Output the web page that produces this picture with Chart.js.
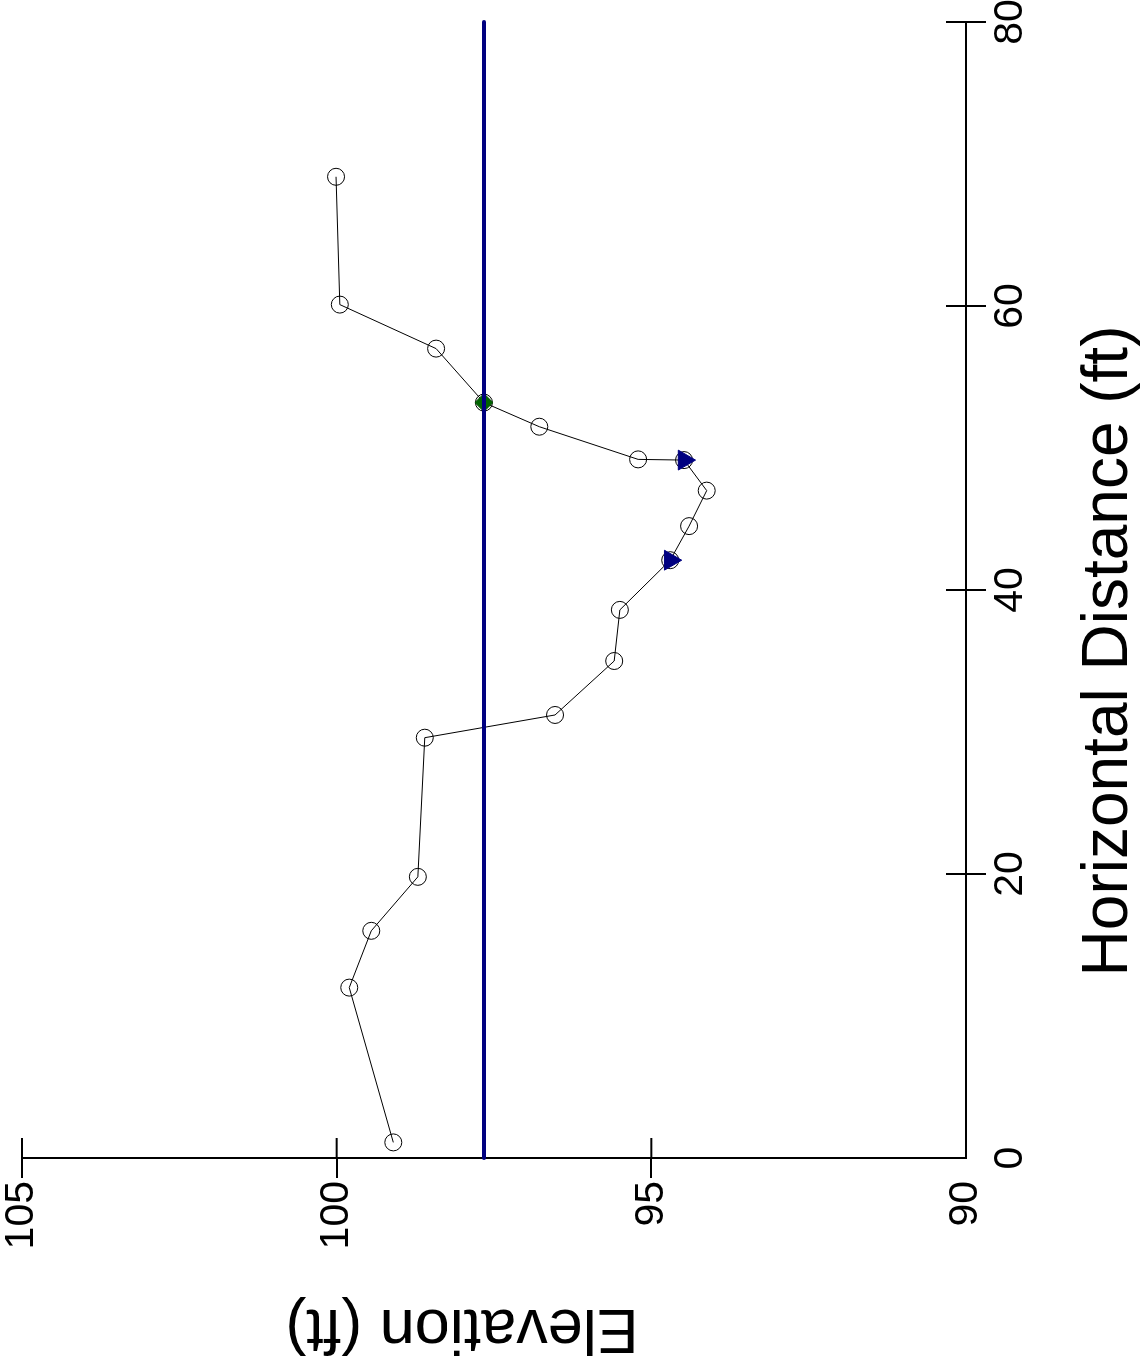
<!DOCTYPE html>
<html>
<head>
<meta charset="utf-8">
<script src="https://cdn.jsdelivr.net/npm/chart.js@4.4.1/dist/chart.umd.min.js"></script>
<style>
    html, body { margin: 0; padding: 0; background: #fff; overflow: hidden; }
    #khung {
        position: absolute; left: 0; top: 0;
        width: 1368px; height: 1142px;
        transform-origin: 0 0;
        transform: translate(0px, 1368px) rotate(-90deg);
    }
</style>
</head>
<body>
<div id="khung"><canvas id="myChart" width="1368" height="1142"></canvas></div>
<script>
// mat cat ngang: khoang cach (ft) va cao do (ft)
var distance = [1.1, 12.0, 16.0, 19.8, 29.6, 31.2, 35.0, 38.6, 42.1, 44.5, 47.0, 49.15, 49.2, 51.5, 53.2, 57.0, 60.1, 69.1];
var elevation = [99.10, 99.80, 99.45, 98.71, 98.60, 96.53, 95.59, 95.50, 94.70, 94.40, 94.12, 94.48, 95.21, 96.78, 97.66, 98.42, 99.95, 100.01];

var triDist = [42.1, 49.15];
var triElev = [94.70, 94.48];

var edgeDist = [53.2];
var edgeElev = [97.66];

var waterDist = [0, 80];
var waterElev = [97.66, 97.66];

var xTicks = [0, 20, 40, 60, 80];
var yTicks = [90, 95, 100, 105];

var xTitle = "Horizontal Distance (ft)";
var yTitle = "Elevation (ft)";

var FONT = "'Liberation Sans', Arial, Helvetica, sans-serif";

function toPoints(xs, ys) {
    var arr = [];
    for (var i = 0; i < xs.length; i++) {
        arr.push({ x: xs[i], y: ys[i] });
    }
    return arr;
}

// vach chia cat qua truc (phan ben trong) + tieu de truc
var innerTicks = {
    id: 'innerTicks',
    afterDraw: function (chart) {
        var ctx = chart.ctx;
        var xs = chart.scales.x, ys = chart.scales.y;
        var area = chart.chartArea;
        ctx.save();
        ctx.strokeStyle = '#000';
        ctx.lineWidth = 2;
        xTicks.forEach(function (v) {
            if (v === xTicks[0]) return;
            var px = xs.getPixelForValue(v);
            ctx.beginPath();
            ctx.moveTo(px, area.bottom);
            ctx.lineTo(px, area.bottom - 20);
            ctx.stroke();
        });
        yTicks.forEach(function (v) {
            if (v === yTicks[0]) return;
            var py = ys.getPixelForValue(v);
            ctx.beginPath();
            ctx.moveTo(area.left, py);
            ctx.lineTo(area.left + 20, py);
            ctx.stroke();
        });

        ctx.fillStyle = '#000';
        ctx.textAlign = 'center';
        ctx.textBaseline = 'alphabetic';
        ctx.font = '64px ' + FONT;
        ctx.fillText(xTitle, 717, 1127);
        ctx.font = '63px ' + FONT;
        ctx.translate(58, 462);
        ctx.rotate(-Math.PI / 2);
        ctx.fillText(yTitle, 0, 0);
        ctx.restore();
    }
};

function tickColor(first) {
    return function (c) {
        return (c.tick && c.tick.value === first) ? 'rgba(0,0,0,0)' : '#000';
    };
}

var ctx = document.getElementById('myChart').getContext('2d');
var myChart = new Chart(ctx, {
    type: 'scatter',
    data: {
        datasets: [
            {
                label: 'Water surface',
                data: toPoints(waterDist, waterElev),
                showLine: true,
                borderColor: '#000080',
                borderWidth: 4,
                borderCapStyle: 'round',
                pointRadius: 0,
                clip: false,
                order: 0
            },
            {
                label: 'Edge',
                data: toPoints(edgeDist, edgeElev),
                pointStyle: 'rectRot',
                pointRadius: 9,
                backgroundColor: '#006400',
                borderColor: '#005000',
                borderWidth: 1,
                order: 1
            },
            {
                label: 'Marks',
                data: toPoints(triDist, triElev),
                pointStyle: 'triangle',
                rotation: 180,
                pointRadius: 11.5,
                backgroundColor: '#000080',
                borderColor: '#000080',
                borderWidth: 1,
                order: 2
            },
            {
                label: 'Profile',
                data: toPoints(distance, elevation),
                showLine: true,
                borderColor: '#000',
                borderWidth: 1,
                pointRadius: 8.5,
                pointBackgroundColor: 'rgba(0,0,0,0)',
                pointBorderColor: '#000',
                pointBorderWidth: 1,
                order: 3
            }
        ]
    },
    options: {
        responsive: false,
        devicePixelRatio: 1,
        animation: false,
        layout: { padding: { left: 0, right: 22, top: 22, bottom: 0 } },
        plugins: { legend: { display: false }, tooltip: { enabled: false } },
        scales: {
            x: {
                type: 'linear',
                min: xTicks[0],
                max: xTicks[xTicks.length - 1],
                afterBuildTicks: function (s) { s.ticks = xTicks.map(function (v) { return { value: v }; }); },
                afterFit: function (s) { s.height = 176; s.paddingLeft = 0; s.paddingRight = 0; },
                grid: { drawOnChartArea: false, drawTicks: true, tickLength: 20, lineWidth: 2, color: tickColor(xTicks[0]) },
                border: { display: true, color: '#000', width: 2 },
                ticks: { color: '#000', padding: 0, maxRotation: 0, autoSkip: false, font: { family: FONT, size: 41 } }
            },
            y: {
                type: 'linear',
                min: yTicks[0],
                max: yTicks[yTicks.length - 1],
                afterBuildTicks: function (s) { s.ticks = yTicks.map(function (v) { return { value: v }; }); },
                afterFit: function (s) { s.width = 210; s.paddingTop = 0; s.paddingBottom = 0; },
                grid: { drawOnChartArea: false, drawTicks: true, tickLength: 20, lineWidth: 2, color: tickColor(yTicks[0]) },
                border: { display: true, color: '#000', width: 2 },
                ticks: { color: '#000', padding: 3, autoSkip: false, font: { family: FONT, size: 41 } }
            }
        }
    },
    plugins: [innerTicks]
});
</script>
</body>
</html>
